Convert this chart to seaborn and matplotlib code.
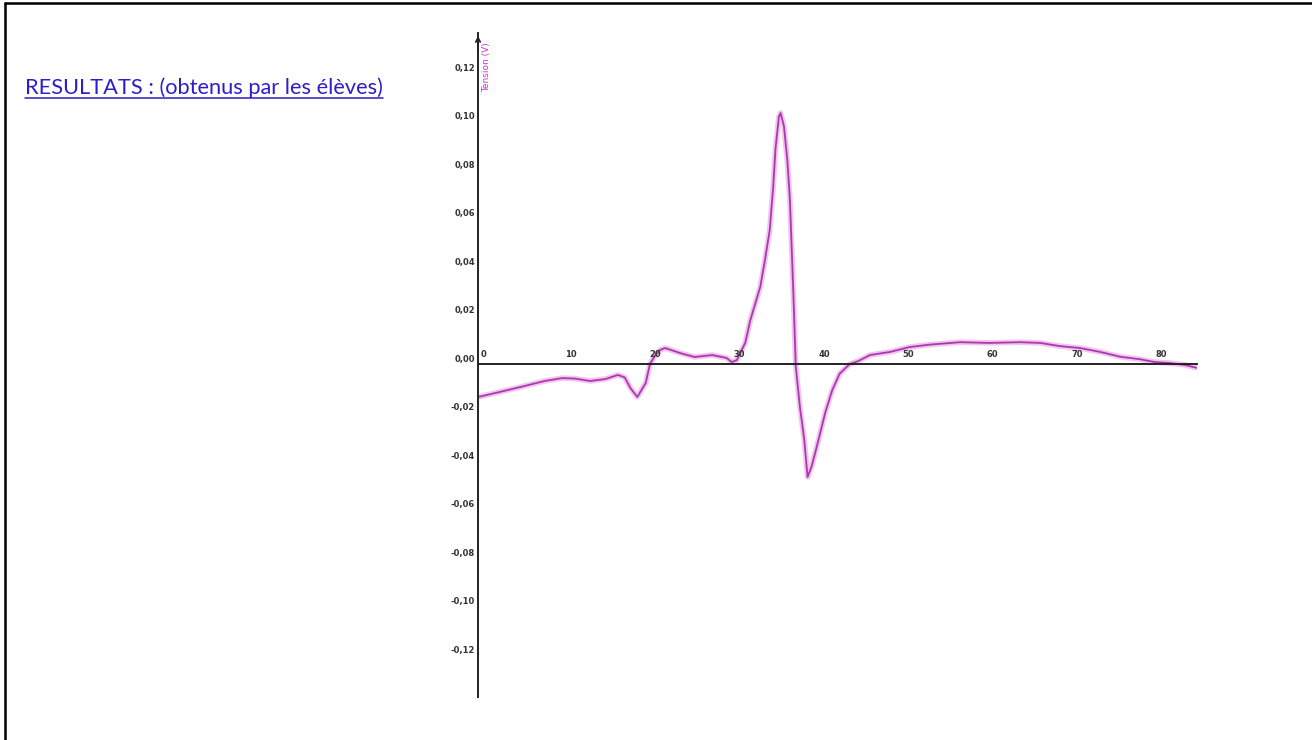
import numpy as np
import pandas as pd
import matplotlib
matplotlib.use("Agg")
import matplotlib.pyplot as plt
from matplotlib.lines import Line2D
from matplotlib.transforms import offset_copy
import seaborn as sns

# ---- data ----
time_ms = [0.0, 2.0, 5.0, 7.9, 10.0, 11.5, 13.3, 15.1, 16.6, 17.4, 18.1, 18.9,
           19.9, 20.4, 21.0, 21.6, 22.2, 24.0, 25.7, 27.8, 29.5, 30.1, 30.7,
           31.7, 32.3, 33.5, 34.0, 34.6, 35.0, 35.3, 35.7, 35.9, 36.3, 36.7,
           37.0, 37.4, 37.7, 38.2, 38.7, 39.1, 39.6, 40.3, 41.2, 42.0, 42.9,
           44.1, 45.1, 46.5, 48.9, 51.2, 53.6, 57.2, 60.7, 64.3, 66.7, 69.0,
           71.4, 73.8, 76.2, 78.5, 80.3, 82.1, 83.9, 85.3]
tension_v = [-0.0136, -0.0120, -0.0095, -0.0070, -0.0058, -0.0060, -0.0070,
             -0.0062, -0.0045, -0.0055, -0.0100, -0.0136, -0.0078, 0.0000,
             0.0035, 0.0058, 0.0066, 0.0045, 0.0029, 0.0037, 0.0025, 0.0008,
             0.0016, 0.0087, 0.0180, 0.0320, 0.0420, 0.0550, 0.0720, 0.0890,
             0.1020, 0.1035, 0.0980, 0.0840, 0.0680, 0.0305, -0.0010, -0.0180,
             -0.0310, -0.0466, -0.0420, -0.0326, -0.0200, -0.0110, -0.0040,
             0.0000, 0.0012, 0.0037, 0.0050, 0.0070, 0.0080, 0.0090, 0.0087,
             0.0090, 0.0087, 0.0074, 0.0066, 0.0050, 0.0030, 0.0020, 0.0008,
             0.0004, -0.0004, -0.0016]
x_ticks = [0, 10, 20, 30, 40, 50, 60, 70, 80]
x_tick_labels = ["0", "10", "20", "30", "40", "50", "60", "70", "80"]
y_ticks = [-0.12, -0.10, -0.08, -0.06, -0.04, -0.02, 0.00,
           0.02, 0.04, 0.06, 0.08, 0.10, 0.12]
y_tick_labels = ["-0,12", "-0,10", "-0,08", "-0,06", "-0,04", "-0,02", "0,00",
                 "0,02", "0,04", "0,06", "0,08", "0,10", "0,12"]
y_label = "Tension (V)"
title_text = "RESULTATS : (obtenus par les élèves)"

df = pd.DataFrame({"t": time_ms, "u": tension_v})

sns.set_theme(style="white")
plt.rcParams["font.family"] = ["DejaVu Sans"]

W, H = 1312, 740
fig = plt.figure(figsize=(W / 100, H / 100), dpi=100)
fig.patch.set_facecolor("white")

# axes placement (pixel geometry of the reference)
x0, x1 = 478, 1197
y_top, y_bot = 33, 697
ax = fig.add_axes([x0 / W, 1 - y_bot / H, (x1 - x0) / W, (y_bot - y_top) / H])
ax.set_facecolor("none")

# curve with a soft pink halo
sns.lineplot(data=df, x="t", y="u", ax=ax, color="#f2c4ef", linewidth=4.0,
             sort=False, legend=False)
sns.lineplot(data=df, x="t", y="u", ax=ax, color="#a93aae", linewidth=1.3,
             sort=False, legend=False)

ax.set_xlim(0, 85.3)
ax.set_ylim(-0.1373, 0.1365)
ax.set_xlabel("")

# spines: y axis at left, x axis at zero
for s in ("top", "right"):
    ax.spines[s].set_visible(False)
ax.spines["bottom"].set_position(("data", 0))
for s in ("left", "bottom"):
    ax.spines[s].set_color("#222222")
    ax.spines[s].set_linewidth(1.4)

ax.set_xticks(x_ticks)
ax.set_yticks(y_ticks)
ax.tick_params(axis="x", direction="inout", length=11, width=1.3,
               color="#222222", labelbottom=False)
ax.tick_params(axis="y", direction="inout", length=8, width=1.3,
               color="#222222", labelleft=False)

# tick labels placed like the reference: x above-right of tick, y above-left
for xv, lab in zip(x_ticks, x_tick_labels):
    tr = offset_copy(ax.transData, fig=fig, x=3, y=5, units="dots")
    ax.text(xv, 0, lab, transform=tr, ha="left", va="bottom",
            fontsize=6, color="#333333", fontweight="bold")
for yv, lab in zip(y_ticks, y_tick_labels):
    tr = offset_copy(ax.get_yaxis_transform(), fig=fig, x=-3, y=5, units="dots")
    ax.text(0, yv, lab, transform=tr, ha="right", va="center",
            fontsize=6, color="#333333", fontweight="bold")

# y-axis label in magenta, rotated, just right of the axis near the top
ax.set_ylabel(y_label, fontsize=6.5, color="#cc33cc", rotation=90)
ax.yaxis.label.set_ha("center")
ax.yaxis.label.set_va("center")
ax.yaxis.set_label_coords(9 / (x1 - x0), 1 - (67 - y_top) / (y_bot - y_top))

# arrow on y axis
ax.annotate("", xy=(0, 1.0), xycoords="axes fraction",
            xytext=(0, 0.97), textcoords="axes fraction",
            arrowprops=dict(arrowstyle="->", color="#222222", lw=1.2,
                            mutation_scale=8))

# title text, underlined, blue
t = fig.text(25 / W, 1 - 94 / H, title_text, fontsize=14,
             family=["Lato", "DejaVu Sans"], color="#2c1ec8",
             ha="left", va="baseline")
fig.canvas.draw()
bb = t.get_window_extent()
scale = 359 / bb.width
t.set_fontsize(14 * scale)
fig.canvas.draw()
bb = t.get_window_extent()
uy = 1 - 97.5 / H
fig.add_artist(Line2D([bb.x0 / W, bb.x1 / W], [uy, uy],
                      transform=fig.transFigure, color="#2c1ec8", lw=1.1))

# page border lines (top and left)
fig.add_artist(Line2D([4.5 / W, 1.0], [1 - 3 / H, 1 - 3 / H],
                      transform=fig.transFigure, color="black", lw=1.8))
fig.add_artist(Line2D([5 / W, 5 / W], [0, 1 - 3 / H],
                      transform=fig.transFigure, color="black", lw=1.8))

fig.savefig("out.png", dpi=100, facecolor="white")
